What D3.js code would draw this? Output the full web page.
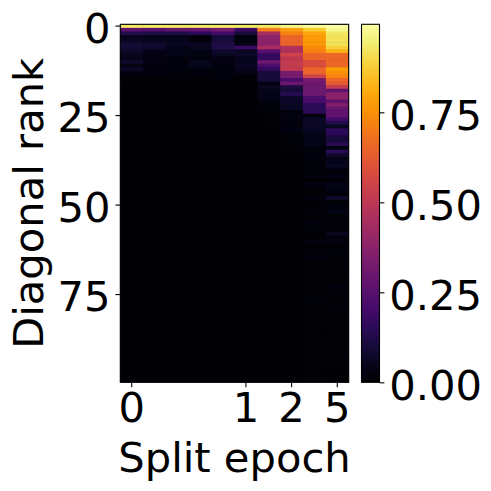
<!DOCTYPE html>
<html>
<head>
<meta charset="utf-8">
<script src="https://cdn.jsdelivr.net/npm/d3@7"></script>
<style>
html, body { margin: 0; padding: 0; background: #fff; }
text { font-family: "DejaVu Sans"; fill: #000; }
</style>
</head>
<body>
<div id="vis"></div>
<script>
// one list per split, top row first
var col0 = [.93,.27,.13,.05,.06,.09,.09,.07,.05,.04,.08,.03,.07,.03,.015,.01,.006,.005,.004,.004,.003,.003,.003,.002,.002,.002,.002,.002,.002,.002,.002,.001,.001,.001,.001,.001,.001,.001,.001,.001,.001,.001,.001,.001,.001,.001,.001,.001,.001,.001,.001,.001,.001,.001,.001,.001,.001,.001,.001,.001,.001,.001,.001,.001,.001,.001,.001,.001,.001,.001,.001,.001,.001,.001,.001,.001,.001,.001,.001,.001,.001,.001,.001,.001,.001,.001,.001,.001,.001,.001,.001,.001,.001,.001,.001,.001,.001,.001,.001,.001];
var col1 = [.93,.25,.12,.04,.05,.08,.08,.04,.03,.035,.03,.02,.03,.025,.015,.01,.006,.006,.004,.004,.003,.003,.003,.002,.002,.002,.002,.002,.002,.002,.002,.001,.001,.001,.001,.001,.001,.001,.001,.001,.001,.001,.001,.001,.001,.001,.001,.001,.001,.001,.001,.001,.001,.001,.001,.001,.001,.001,.001,.001,.001,.001,.001,.001,.001,.001,.001,.001,.001,.001,.001,.001,.001,.001,.001,.001,.001,.001,.001,.001,.001,.001,.001,.001,.001,.001,.001,.001,.001,.001,.001,.001,.001,.001,.001,.001,.001,.001,.001,.001];
var col2 = [.93,.28,.12,.05,.05,.06,.04,.04,.04,.02,.02,.025,.02,.02,.025,.008,.005,.005,.004,.004,.003,.003,.003,.002,.002,.002,.002,.002,.002,.002,.002,.001,.001,.001,.001,.001,.001,.001,.001,.001,.001,.001,.001,.001,.001,.001,.001,.001,.001,.001,.001,.001,.001,.001,.001,.001,.001,.001,.001,.001,.001,.001,.001,.001,.001,.001,.001,.001,.001,.001,.001,.001,.001,.001,.001,.001,.001,.001,.001,.001,.001,.001,.001,.001,.001,.001,.001,.001,.001,.001,.001,.001,.001,.001,.001,.001,.001,.001,.001,.001];
var col3 = [.93,.28,.15,.02,.02,.06,.06,.035,.035,.02,.05,.05,.025,.02,.012,.008,.005,.005,.004,.004,.003,.003,.003,.002,.002,.002,.002,.002,.002,.002,.002,.001,.001,.001,.001,.001,.001,.001,.001,.001,.001,.001,.001,.001,.001,.001,.001,.001,.001,.001,.001,.001,.001,.001,.001,.001,.001,.001,.001,.001,.001,.001,.001,.001,.001,.001,.001,.001,.001,.001,.001,.001,.001,.001,.001,.001,.001,.001,.001,.001,.001,.001,.001,.001,.001,.001,.001,.001,.001,.001,.001,.001,.001,.001,.001,.001,.001,.001,.001,.001];
var col4 = [.93,.32,.2,.1,.1,.12,.12,.08,.06,.03,.03,.03,.025,.025,.025,.015,.008,.006,.005,.004,.004,.003,.003,.003,.002,.002,.002,.002,.002,.002,.002,.001,.001,.001,.001,.001,.001,.001,.001,.001,.001,.001,.001,.001,.001,.001,.001,.001,.001,.001,.001,.001,.001,.001,.001,.001,.001,.001,.001,.001,.001,.001,.001,.001,.001,.001,.001,.001,.001,.001,.001,.001,.001,.001,.001,.001,.002,.002,.001,.001,.001,.001,.001,.001,.001,.001,.001,.001,.001,.001,.001,.001,.001,.001,.001,.001,.001,.001,.001,.001];
var col5 = [.93,.18,.1,.02,.02,.04,.18,.06,.07,.05,.05,.06,.05,.04,.015,.008,.006,.005,.005,.004,.004,.003,.003,.003,.002,.002,.002,.002,.002,.002,.002,.001,.001,.001,.001,.001,.001,.001,.001,.001,.001,.001,.001,.001,.001,.001,.001,.001,.001,.001,.001,.001,.001,.001,.001,.001,.001,.001,.001,.001,.001,.001,.001,.001,.001,.001,.001,.001,.001,.001,.001,.001,.001,.001,.001,.001,.001,.001,.001,.001,.001,.001,.001,.001,.001,.001,.001,.001,.001,.001,.001,.001,.001,.001,.001,.001,.001,.001,.001,.001];
var col6 = [.93,.7,.45,.38,.38,.38,.45,.25,.17,.17,.3,.22,.17,.1,.1,.1,.03,.06,.04,.04,.04,.03,.02,.015,.012,.008,.012,.012,.008,.008,.006,.006,.006,.006,.005,.004,.004,.004,.003,.003,.003,.003,.003,.002,.002,.002,.002,.002,.002,.002,.002,.002,.002,.002,.002,.002,.002,.002,.002,.002,.002,.002,.002,.002,.002,.002,.002,.002,.002,.005,.004,.003,.003,.002,.002,.002,.002,.002,.002,.002,.002,.005,.004,.002,.002,.004,.004,.002,.002,.002,.002,.002,.002,.002,.002,.002,.002,.002,.002,.002];
var col7 = [.97,.78,.72,.65,.65,.65,.47,.47,.55,.5,.52,.52,.52,.33,.33,.22,.3,.12,.09,.14,.07,.07,.06,.06,.02,.03,.03,.025,.02,.03,.02,.015,.015,.012,.012,.008,.008,.006,.006,.006,.006,.012,.008,.005,.005,.005,.005,.005,.005,.005,.005,.005,.005,.005,.005,.005,.004,.004,.004,.004,.004,.004,.004,.004,.004,.004,.006,.006,.006,.005,.005,.005,.005,.005,.004,.004,.004,.004,.004,.004,.004,.004,.004,.004,.004,.004,.004,.004,.004,.007,.007,.007,.007,.007,.007,.005,.005,.005,.005,.005];
var col8 = [.98,.87,.8,.77,.77,.77,.74,.72,.65,.65,.58,.58,.65,.65,.55,.33,.3,.3,.3,.3,.22,.22,.15,.15,.15,.02,.06,.07,.06,.06,.05,.04,.04,.04,.02,.02,.02,.03,.015,.015,.015,.015,.025,.006,.03,.02,.01,.01,.025,.005,.005,.02,.02,.01,.01,.02,.02,.02,.005,.005,.02,.005,.005,.02,.02,.02,.01,.01,.012,.01,.01,.01,.01,.01,.01,.01,.02,.02,.008,.008,.008,.008,.008,.008,.008,.008,.008,.008,.008,.012,.012,.008,.008,.008,.008,.012,.012,.008,.008,.008];
var col9 = [.99,.97,.93,.92,.92,.92,.88,.82,.66,.66,.66,.66,.78,.75,.72,.65,.62,.52,.27,.38,.38,.27,.35,.28,.27,.27,.2,.13,.06,.15,.15,.1,.1,.14,.03,.15,.08,.04,.05,.06,.03,.012,.03,.008,.04,.04,.03,.012,.08,.012,.025,.03,.04,.012,.012,.018,.018,.018,.055,.018,.035,.012,.012,.02,.02,.015,.01,.01,.012,.008,.01,.01,.01,.025,.01,.02,.01,.01,.02,.02,.01,.01,.008,.008,.008,.008,.008,.008,.008,.008,.008,.008,.015,.008,.008,.008,.006,.006,.006,.006];
var columns = [col0, col1, col2, col3, col4, col5, col6, col7, col8, col9];

var xTicks = [0, 5, 7, 9];
var xTickLabels = ['0', '1', '2', '5'];
var yTicks = [0, 25, 50, 75];
var barTicks = [0, 0.25, 0.5, 0.75];
var barMax = 0.9945;

var width = 491;
var height = 491;

var plot = {left: 120.3, right: 348.7, top: 24.3, bottom: 382.3};
var bar = {left: 361.5, right: 379.5};

var svg = d3.select('#vis')
  .append('svg')
  .attr('width', width)
  .attr('height', height)
  .style('display', 'block');

var x_scale = d3.scaleBand().domain(d3.range(columns.length)).range([plot.left, plot.right]);
var y_scale = d3.scaleBand().domain(d3.range(col0.length)).range([plot.top, plot.bottom]);
var colour_scale = d3.scaleSequential(d3.interpolateInferno).domain([0, barMax]);
var bar_scale = d3.scaleLinear().domain([0, barMax]).range([plot.bottom, plot.top]);

svg.append('clipPath').attr('id', 'plot-clip')
  .append('rect')
  .attr('x', plot.left).attr('y', plot.top)
  .attr('width', plot.right - plot.left).attr('height', plot.bottom - plot.top);

// dark backing so the antialiased cell edges don't let white through
svg.append('rect')
  .attr('x', plot.left).attr('y', plot.top)
  .attr('width', plot.right - plot.left).attr('height', plot.bottom - plot.top)
  .attr('fill', colour_scale(0));

var cols = svg.append('g')
  .attr('clip-path', 'url(#plot-clip)')
  .selectAll('g')
  .data(columns)
  .enter()
  .append('g');

cols.selectAll('rect')
  .data(function(d, i) {
    return d.map(function(v, r) { return {col: i, row: r, value: v}; });
  })
  .enter()
  .append('rect')
  .attr('x', function(d) { return x_scale(d.col); })
  .attr('y', function(d) { return y_scale(d.row); })
  .attr('width', x_scale.bandwidth() + 0.5)
  .attr('height', y_scale.bandwidth() + 0.6)
  .attr('fill', function(d) { return colour_scale(d.value); });

var gradient = svg.append('defs').append('linearGradient')
  .attr('id', 'bar-gradient')
  .attr('x1', 0).attr('x2', 0).attr('y1', 1).attr('y2', 0);

d3.range(0, 1.001, 0.05).forEach(function(t) {
  gradient.append('stop')
    .attr('offset', t)
    .attr('stop-color', colour_scale(t * barMax));
});

svg.append('rect')
  .attr('x', bar.left)
  .attr('y', plot.top)
  .attr('width', bar.right - bar.left)
  .attr('height', plot.bottom - plot.top)
  .attr('fill', 'url(#bar-gradient)');

function style_axis(g, dy) {
  g.select('.domain').remove();
  g.selectAll('.tick line').attr('stroke', '#000').attr('stroke-width', 1.1);
  g.selectAll('.tick text').style('font-size', '41.67px').attr('fill', '#000');
  if (dy) g.selectAll('.tick text').attr('dy', dy);
}

var x_axis = d3.axisBottom(x_scale)
  .tickValues(xTicks)
  .tickSize(4.9)
  .tickPadding(4.9)
  .tickFormat(function(d, i) { return xTickLabels[i]; });

var y_axis = d3.axisLeft(y_scale)
  .tickValues(yTicks)
  .tickSize(4.9)
  .tickPadding(4.9);

var colour_axis = d3.axisRight(bar_scale)
  .tickValues(barTicks)
  .tickSize(4.9)
  .tickPadding(4.9)
  .tickFormat(d3.format('.2f'));

svg.append('g')
  .attr('transform', 'translate(0,' + plot.bottom + ')')
  .call(x_axis)
  .call(function(g) { style_axis(g); });

svg.append('g')
  .attr('transform', 'translate(' + plot.left + ',0)')
  .call(y_axis)
  .call(function(g) { style_axis(g, '.405em'); });

svg.append('g')
  .attr('transform', 'translate(' + bar.right + ',0)')
  .call(colour_axis)
  .call(function(g) { style_axis(g, '.405em'); });

// frames
svg.append('rect')
  .attr('x', plot.left).attr('y', plot.top)
  .attr('width', plot.right - plot.left).attr('height', plot.bottom - plot.top)
  .attr('fill', 'none').attr('stroke', '#000').attr('stroke-width', 1.1);

svg.append('rect')
  .attr('x', bar.left).attr('y', plot.top)
  .attr('width', bar.right - bar.left).attr('height', plot.bottom - plot.top)
  .attr('fill', 'none').attr('stroke', '#000').attr('stroke-width', 1.1);

svg.append('text')
  .attr('x', (plot.left + plot.right) / 2)
  .attr('y', 471.5)
  .attr('text-anchor', 'middle')
  .style('font-size', '41.67px')
  .text('Split epoch');

svg.append('text')
  .attr('transform', 'translate(42.7,' + (plot.top + plot.bottom) / 2 + ') rotate(-90)')
  .attr('text-anchor', 'middle')
  .style('font-size', '41.67px')
  .text('Diagonal rank');
</script>
</body>
</html>
